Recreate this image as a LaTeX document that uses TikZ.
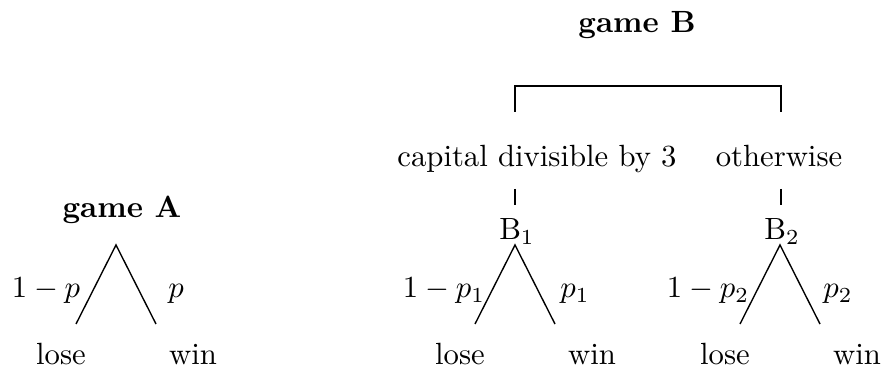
\documentclass[tikz,border=0pt]{standalone}
\begin{document}
\begin{tikzpicture}[x=0.3257pt,y=-0.3257pt,
  lbl/.style={anchor=base,inner sep=0pt,outer sep=0pt},
  branch/.style={line width=0.45pt},
  brk/.style={line width=0.8pt}]
\useasboundingbox (0,0) rectangle (884,371);
% game B header
\node[lbl,font=\bfseries] (gB) at (637,33) {game B};
\coordinate (bl) at (515,112);
\coordinate (br) at (781,112);
\coordinate (tl) at (515,86);
\coordinate (tr) at (781,86);
\draw[brk] (bl) -- (tl) -- (tr) -- (br);
\node[lbl] (cap) at (537,167) {capital divisible by 3};
\node[lbl] (oth) at (779,167) {otherwise};
\coordinate (c1a) at (515,189);
\coordinate (c1b) at (515,205);
\coordinate (c2a) at (781,189);
\coordinate (c2b) at (781,205);
\draw[brk] (c1a) -- (c1b);
\draw[brk] (c2a) -- (c2b);
% game A
\node[lbl,font=\bfseries] (gA) at (122,218) {game A};
\coordinate (aA) at (116,245);
\coordinate (aL) at (76,324);
\coordinate (aR) at (156,324);
\draw[branch] (aL) -- (aA) -- (aR);
\node[lbl] (qA) at (46,298) {$1-p$};
\node[lbl] (pA) at (176,298) {$p$};
\node[lbl] (loseA) at (61,365) {lose};
\node[lbl] (winA) at (193,365) {win};
% B1
\node[lbl] (B1) at (517,240) {B$_1$};
\coordinate (a1) at (515,245);
\coordinate (l1) at (475,324);
\coordinate (r1) at (555,324);
\draw[branch] (l1) -- (a1) -- (r1);
\node[lbl] (q1) at (444,298) {$1-p_1$};
\node[lbl] (p1) at (575,298) {$p_1$};
\node[lbl] (lose1) at (460,365) {lose};
\node[lbl] (win1) at (592,365) {win};
% B2
\node[lbl] (B2) at (782,240) {B$_2$};
\coordinate (a2) at (780,245);
\coordinate (l2) at (740,324);
\coordinate (r2) at (820,324);
\draw[branch] (l2) -- (a2) -- (r2);
\node[lbl] (q2) at (708,298) {$1-p_2$};
\node[lbl] (p2) at (838,298) {$p_2$};
\node[lbl] (lose2) at (725,365) {lose};
\node[lbl] (win2) at (857,365) {win};
\end{tikzpicture}
\end{document}
